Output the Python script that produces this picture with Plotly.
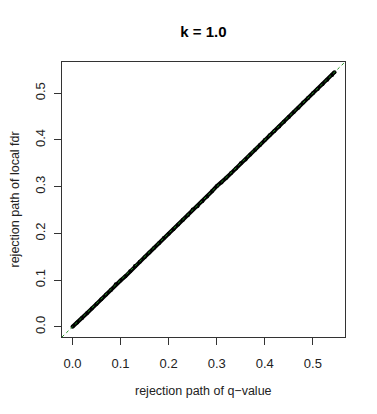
import plotly.graph_objects as go

# rejection paths
q_path = [0.000, 0.010, 0.020, 0.030, 0.040, 0.050, 0.060, 0.070, 0.080, 0.090,
          0.100, 0.110, 0.120, 0.130, 0.140, 0.150, 0.160, 0.170, 0.180, 0.190,
          0.200, 0.210, 0.220, 0.230, 0.240, 0.250, 0.260, 0.270, 0.280, 0.290,
          0.300, 0.310, 0.320, 0.330, 0.340, 0.350, 0.360, 0.370, 0.380, 0.390,
          0.400, 0.410, 0.420, 0.430, 0.440, 0.450, 0.460, 0.470, 0.480, 0.490,
          0.500, 0.510, 0.520, 0.530, 0.540, 0.545]
lfdr_path = [0.000, 0.009, 0.019, 0.029, 0.039, 0.049, 0.059, 0.069, 0.079, 0.091,
             0.099, 0.108, 0.119, 0.130, 0.139, 0.149, 0.159, 0.169, 0.179, 0.190,
             0.199, 0.209, 0.219, 0.229, 0.239, 0.251, 0.258, 0.269, 0.279, 0.290,
             0.301, 0.309, 0.319, 0.329, 0.339, 0.350, 0.358, 0.369, 0.379, 0.389,
             0.400, 0.410, 0.419, 0.429, 0.439, 0.449, 0.459, 0.469, 0.480, 0.490,
             0.500, 0.509, 0.519, 0.529, 0.539, 0.545]

axis_range = [-0.0218, 0.5668]
tick_vals = [0.0, 0.1, 0.2, 0.3, 0.4, 0.5]
tick_text = ["0.0", "0.1", "0.2", "0.3", "0.4", "0.5"]

FONT = "Liberation Sans, Arial, Helvetica, sans-serif"

# the page body has an 8px margin, so the figure is 8px smaller and offset
W, H = 369, 406
L, R, T, B = 54, 32, 54, 77

fig = go.Figure()
fig.add_trace(go.Scatter(x=q_path, y=lfdr_path, mode="lines+markers",
                         line=dict(color="black", width=4),
                         marker=dict(color="black", size=4),
                         showlegend=False, hoverinfo="skip"))
fig.add_trace(go.Scatter(x=axis_range, y=axis_range, mode="lines",
                         line=dict(color="#1f8f1f", width=1, dash="3px,3px"),
                         showlegend=False, hoverinfo="skip"))

axis_common = dict(range=axis_range, tickvals=tick_vals, ticktext=tick_text,
                   showgrid=False, zeroline=False, showline=True, mirror=True,
                   linecolor="#333333", linewidth=1, ticks="outside", ticklen=7,
                   tickcolor="#333333", tickwidth=1, automargin=False,
                   tickfont=dict(family=FONT, size=13, color="#222222"))

pw = W - L - R
ph = H - T - B

fig.update_layout(
    width=W, height=H,
    margin=dict(l=L, r=R, t=T, b=B, autoexpand=False),
    paper_bgcolor="white", plot_bgcolor="white",
    title=dict(text="<b>k = 1.0</b>", x=(L + pw / 2) / W, xanchor="center",
               y=1 - 24 / H, yanchor="middle", automargin=False,
               font=dict(family=FONT, size=15, color="black")),
    xaxis=dict(**axis_common, ticklabelstandoff=7),
    yaxis=dict(**axis_common, tickangle=-90, ticklabelstandoff=4),
    annotations=[
        dict(text="rejection path of q\u2212value", xref="paper", yref="paper",
             x=0.5, y=-54 / ph, xanchor="center", yanchor="middle",
             showarrow=False, font=dict(family=FONT, size=12.5, color="#222222")),
        dict(text="rejection path of local fdr", xref="paper", yref="paper",
             x=-48 / pw, y=0.5, xanchor="center", yanchor="middle",
             textangle=-90, showarrow=False,
             font=dict(family=FONT, size=12.5, color="#222222")),
    ],
)

fig.write_html("out.html")
